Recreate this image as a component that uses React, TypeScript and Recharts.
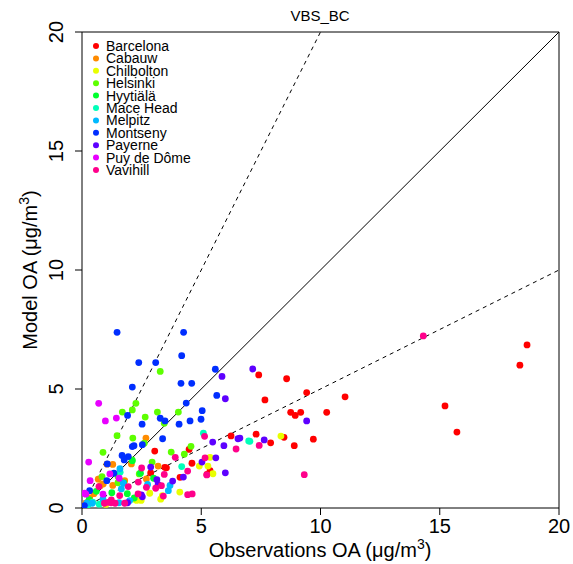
import { ScatterChart, Scatter, XAxis, YAxis, ReferenceLine } from "recharts";

const siteNames = ["Barcelona", "Cabauw", "Chilbolton", "Helsinki", "Hyytiälä", "Mace Head", "Melpitz", "Montseny", "Payerne", "Puy de Dôme", "Vavihill"];
const siteColors = ["#FF0000", "#FF8B00", "#E8FF00", "#5DFF00", "#00FF2E", "#00FFB9", "#00B9FF", "#002EFF", "#5D00FF", "#E800FF", "#FF008B"];

const barcelona = [[18.66, 6.85], [18.36, 6.0], [15.22, 4.29], [15.72, 3.19], [11.03, 4.67], [7.41, 5.59], [8.58, 5.43], [9.42, 4.85], [7.67, 4.54], [8.75, 4.02], [8.94, 3.89], [9.17, 4.02], [10.26, 4.02], [7.3, 3.1], [8.47, 2.97], [7.91, 2.74], [8.9, 2.62], [9.7, 2.89], [6.25, 3.03], [4.49, 2.46], [4.61, 1.88], [3.54, 1.69], [3.05, 2.39], [2.88, 1.47], [5.37, 1.57], [5.24, 1.41], [4.11, 1.29], [3.47, 1.71]];
const cabauw = [[2.68, 2.94], [1.29, 1.83], [1.05, 1.84], [0.68, 1.21], [1.29, 0.95], [1.79, 1.15], [0.89, 1.01], [2.7, 1.22], [0.32, 0.42], [0.77, 0.94], [2.07, 1.85], [3.19, 1.76], [0.15, 0.2], [0.5, 0.6]];
const chilbolton = [[8.34, 3.02], [4.92, 1.76], [5.37, 2.13], [5.28, 1.76], [5.49, 1.44], [4.1, 0.67], [3.37, 0.52], [2.29, 0.32], [2.48, 0.32], [2.84, 0.62], [2.21, 0.37], [3.3, 0.37], [1.0, 0.15]];
const helsinki = [[3.28, 5.74], [2.26, 4.4], [2.11, 4.12], [1.69, 4.03], [2.65, 3.82], [3.16, 4.03], [4.04, 4.03], [1.47, 3.04], [2.13, 2.94], [2.61, 2.72], [0.88, 2.34], [3.74, 2.35], [4.57, 2.59], [4.29, 2.26], [2.1, 2.02], [2.94, 1.93], [0.84, 1.32], [2.4, 1.43], [1.51, 1.32], [3.45, 3.56], [1.51, 1.06]];
const hyytiala = [[1.75, 1.06], [2.45, 1.46], [2.11, 1.99], [1.25, 0.64], [2.19, 0.42], [0.6, 0.7], [3.0, 1.25], [0.3, 0.35], [1.9, 0.6]];
const maceHead = [[5.09, 3.14], [6.99, 2.82], [4.18, 1.74], [7.04, 2.8], [0.25, 0.13], [0.72, 0.16], [1.6, 1.5], [0.45, 0.25]];
const melpitz = [[1.59, 1.65], [1.73, 1.04], [3.62, 0.73], [3.69, 0.95], [2.75, 0.99], [1.55, 0.22], [0.2, 0.2], [0.88, 0.37], [1.65, 0.8], [2.0, 0.31], [0.43, 0.2]];
const montseny = [[1.47, 7.38], [4.26, 7.38], [4.18, 6.4], [2.38, 6.11], [3.09, 6.11], [5.59, 5.83], [2.11, 5.08], [4.15, 5.24], [4.6, 5.24], [5.65, 4.73], [4.37, 4.41], [5.04, 4.09], [1.91, 3.89], [3.28, 3.77], [3.48, 3.66], [2.52, 3.52], [4.07, 3.52], [4.53, 3.66], [4.99, 3.73], [3.38, 2.91], [2.11, 2.58], [1.68, 2.21], [1.94, 2.16], [1.77, 2.02], [1.06, 1.85], [0.32, 0.73], [2.18, 2.62], [2.53, 2.66], [1.34, 1.46], [1.04, 1.15], [0.1, 0.1]];
const payerne = [[7.16, 5.84], [9.42, 3.66], [7.64, 2.86], [6.62, 2.94], [5.87, 5.53], [6.01, 4.59], [6.54, 2.91], [5.48, 2.77], [5.95, 2.62], [5.61, 2.11], [6.01, 1.48], [5.03, 1.93], [2.88, 1.72], [4.25, 1.3], [3.8, 1.13], [3.14, 1.19], [3.19, 0.98], [2.53, 0.47], [1.91, 0.22], [2.49, 0.55]];
const puyDeDome = [[0.7, 4.4], [0.98, 3.66], [1.44, 3.78], [0.28, 1.93], [1.17, 1.43], [0.11, 0.62], [0.34, 1.15], [0.16, 0.58], [0.88, 0.58], [1.56, 1.25]];
const vavihill = [[7.43, 2.63], [9.32, 1.4], [14.31, 7.23], [5.14, 3.01], [6.46, 2.48], [3.91, 2.13], [2.5, 1.68], [3.45, 1.41], [4.43, 1.55], [5.23, 1.39], [1.94, 0.9], [2.35, 0.59], [3.41, 0.5], [4.43, 0.56], [4.62, 0.59], [1.22, 0.22], [0.94, 0.2], [1.39, 0.2], [0.71, 0.9], [5.16, 2.11], [3.33, 0.94], [2.36, 1.09], [2.7, 0.87], [1.23, 0.34], [1.09, 0.24], [1.79, 0.2], [1.58, 0.52], [3.09, 0.83]];

const siteData = [barcelona, cabauw, chilbolton, helsinki, hyytiala, maceHead, melpitz, montseny, payerne, puyDeDome, vavihill];

const axisTicks = [0, 5, 10, 15, 20];
const refSlopes = [1, 2, 0.5];
const axisMax = 20;

const FONT = "'Liberation Sans', Arial, Helvetica, sans-serif";

const Dot = (props: any) => <circle cx={props.cx} cy={props.cy} r={3.4} fill={props.fill} />;

const XTick = ({ x, y, payload }: any) => (
  <text x={x} y={y + 16} textAnchor="middle" fontSize={20} fontFamily={FONT} fill="#000">
    {payload.value}
  </text>
);

const YTick = ({ y, payload }: any) => (
  <text x={63} y={y} transform={`rotate(-90, 63, ${y})`} textAnchor="middle" fontSize={20} fontFamily={FONT} fill="#000">
    {payload.value}
  </text>
);

const App = () => {
  return (
    <div style={{ position: "absolute", left: 0, top: 0, width: 573, height: 564, background: "#fff", fontFamily: FONT }}>
      <ScatterChart width={573} height={564} margin={{ top: 32, right: 14, bottom: 0, left: 0 }}>
        <XAxis
          type="number"
          dataKey="x"
          domain={[0, axisMax]}
          ticks={axisTicks}
          interval={0}
          allowDataOverflow
          height={56}
          stroke="#000"
          tickSize={7}
          tick={<XTick />}
        />
        <YAxis
          type="number"
          dataKey="y"
          domain={[0, axisMax]}
          ticks={axisTicks}
          interval={0}
          allowDataOverflow
          width={82}
          stroke="#000"
          tickSize={7}
          tick={<YTick />}
        />
        <ReferenceLine y={axisMax} stroke="#000" />
        <ReferenceLine x={axisMax} stroke="#000" />
        {refSlopes.map((s) => (
          <ReferenceLine
            key={s}
            segment={[{ x: 0, y: 0 }, { x: Math.min(axisMax, axisMax / s), y: Math.min(axisMax, axisMax * s) }]}
            stroke="#000"
            strokeWidth={1}
            strokeDasharray={s === 1 ? undefined : "4 4"}
          />
        ))}
        {siteData.map((pts, i) => (
          <Scatter
            key={siteNames[i]}
            name={siteNames[i]}
            data={pts.map(([x, y]) => ({ x, y }))}
            fill={siteColors[i]}
            shape={<Dot />}
            isAnimationActive={false}
          />
        ))}
      </ScatterChart>
      <svg width={573} height={564} style={{ position: "absolute", left: 0, top: 0, pointerEvents: "none" }}>
        <text x={320} y={21} textAnchor="middle" fontSize={15} fontFamily={FONT}>VBS_BC</text>
        <text x={320} y={557} textAnchor="middle" fontSize={20} fontFamily={FONT}>
          Observations OA (μg/m<tspan dy={-8} fontSize={14}>3</tspan><tspan dy={8}>)</tspan>
        </text>
        <text x={37} y={270} transform="rotate(-90, 37, 270)" textAnchor="middle" fontSize={20} fontFamily={FONT}>
          Model OA (μg/m<tspan dy={-8} fontSize={14}>3</tspan><tspan dy={8}>)</tspan>
        </text>
        {siteNames.map((n, i) => (
          <g key={n}>
            <circle cx={96} cy={46 + i * 12.4} r={3} fill={siteColors[i]} />
            <text x={106} y={51 + i * 12.4} fontSize={14} fontFamily={FONT}>{n}</text>
          </g>
        ))}
      </svg>
    </div>
  );
};

export default App;
